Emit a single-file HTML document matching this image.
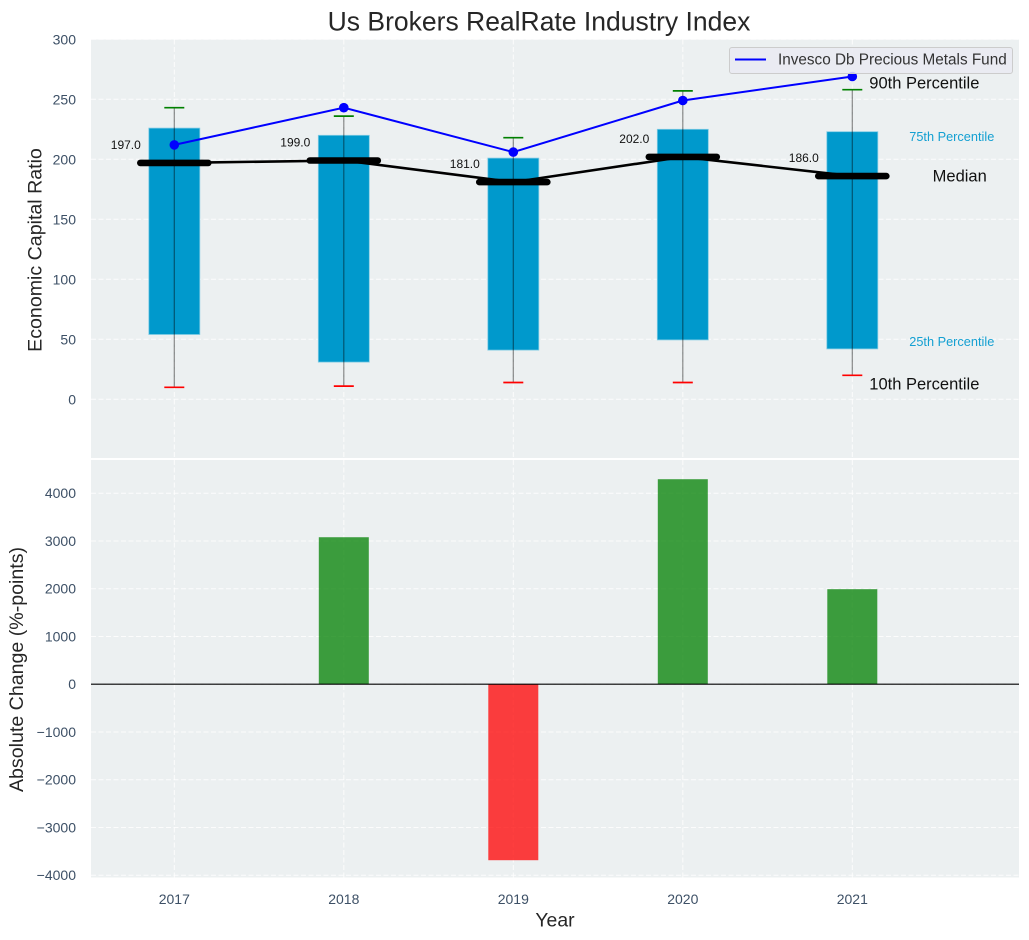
<!DOCTYPE html>
<html lang="en">
<head>
<meta charset="utf-8">
<title>Us Brokers RealRate Industry Index</title>
<style>
html,body{margin:0;padding:0;background:#fff;overflow:hidden;}
svg{display:block;font-family:"Liberation Sans",Arial,sans-serif;}
</style>
</head>
<body>
<svg id="chart" width="1029" height="940" viewBox="0 0 1029 940" xmlns="http://www.w3.org/2000/svg"></svg>
<script>
const years = ['2017', '2018', '2019', '2020', '2021'];
const p10 = [10, 11, 14, 14, 20];
const p25 = [54, 31, 41, 49.5, 42];
const p50 = [197, 199, 181, 202, 186];
const p75 = [226, 220, 201, 225, 223];
const p90 = [243, 236, 218, 257, 258];
const fund = [212, 243, 206, 249, 269];
const absChange = [0, 3078, -3686, 4293, 1990];
const topTicks = [0, 50, 100, 150, 200, 250, 300];
const bottomTicks = [-4000, -3000, -2000, -1000, 0, 1000, 2000, 3000, 4000];

const NS = 'http://www.w3.org/2000/svg';
const svg = document.getElementById('chart');
const L = 91, R = 1019, T1 = 39.5, B1 = 458, T2 = 460, B2 = 877.5;
const x = i => 174.3 + 169.5 * i;
const yTop = v => 399.3 - 1.2 * v;
const yBot = v => 684.2 - 0.04775 * v;

function mk(tag, props, text) {
  const el = document.createElementNS(NS, tag);
  for (const k in props) el.setAttribute(k, props[k]);
  if (text !== undefined) el.textContent = text;
  svg.appendChild(el);
  return el;
}
let e;

/* panels */
e = mk('rect', {x: L, y: T1, width: R - L, height: B1 - T1, fill: '#ecf0f1'});


e = mk('rect', {x: L, y: T2, width: R - L, height: B2 - T2, fill: '#ecf0f1'});



const gridStyle = {stroke: '#fff', 'stroke-width': 1, 'stroke-dasharray': '5 2.5', opacity: 0.85};

/* grid + tick labels, top */
topTicks.forEach(t => {
  let g = mk('line', Object.assign({x1: L, x2: R, y1: yTop(t), y2: yTop(t)}, gridStyle));
  
  
  let l = mk('text', {x: 76, y: yTop(t) + 5, 'text-anchor': 'end', 'font-size': 14, fill: '#3d5066'}, String(t));
  
  
});
/* grid + tick labels, bottom */
bottomTicks.forEach(t => {
  let g = mk('line', Object.assign({x1: L, x2: R, y1: yBot(t), y2: yBot(t)}, gridStyle));
  
  
  const s = t < 0 ? '\u2212' + Math.abs(t) : String(t);
  let l = mk('text', {x: 76, y: yBot(t) + 5, 'text-anchor': 'end', 'font-size': 14, fill: '#3d5066'}, s);
  
  
});
/* vertical grid + x tick labels */
years.forEach((yr, i) => {
  let g = mk('line', Object.assign({x1: x(i), x2: x(i), y1: T1, y2: B1}, gridStyle));
  
  
  let h = mk('line', Object.assign({x1: x(i), x2: x(i), y1: T2, y2: B2}, gridStyle));
  
  
  let l = mk('text', {x: x(i), y: 904, 'text-anchor': 'middle', 'font-size': 14, fill: '#3d5066'}, yr);
  
  
});

/* IQR bars */
years.forEach((yr, i) => {
  let b = mk('rect', {x: x(i) - 25.5, y: yTop(p75[i]), width: 51, height: yTop(p25[i]) - yTop(p75[i]), fill: '#0099cc', stroke: '#7fcbe4', 'stroke-width': 0.8});
  
  
});

/* whiskers */
years.forEach((yr, i) => {
  let w = mk('line', {x1: x(i), x2: x(i), y1: yTop(p90[i]), y2: yTop(p10[i]), stroke: '#000', 'stroke-opacity': 0.45, 'stroke-width': 1.2});
  
  
  let hi = mk('line', {x1: x(i) - 10, x2: x(i) + 10, y1: yTop(p90[i]), y2: yTop(p90[i]), stroke: '#008000', 'stroke-width': 1.7});
  
  
  let lo = mk('line', {x1: x(i) - 10, x2: x(i) + 10, y1: yTop(p10[i]), y2: yTop(p10[i]), stroke: '#ff0000', 'stroke-width': 1.7});
  
  
});

/* median connecting line */
e = mk('polyline', {points: p50.map((v, i) => x(i) + ',' + yTop(v)).join(' '), fill: 'none', stroke: '#000', 'stroke-width': 2.6});



/* median thick segments and labels */
years.forEach((yr, i) => {
  let m = mk('line', {x1: x(i) - 34, x2: x(i) + 34, y1: yTop(p50[i]), y2: yTop(p50[i]), stroke: '#000', 'stroke-width': 6.6, 'stroke-linecap': 'round'});
  
  
  let l = mk('text', {x: x(i) - 33.5, y: yTop(p50[i]) - 14, 'text-anchor': 'end', 'font-size': 12, fill: '#111'}, p50[i].toFixed(1));
  
  
});

/* fund line */
e = mk('polyline', {points: fund.map((v, i) => x(i) + ',' + yTop(v)).join(' '), fill: 'none', stroke: '#0000ff', 'stroke-width': 2});


years.forEach((yr, i) => {
  let c = mk('circle', {cx: x(i), cy: yTop(fund[i]), r: 4.8, fill: '#0000ff'});
  
  
});

/* percentile annotations */
const last = years.length - 1;
e = mk('text', {x: x(last) + 17, y: yTop(p90[last]) - 1, 'font-size': 16.5, fill: '#111'}, '90th Percentile');


e = mk('text', {x: x(last) + 142, y: yTop(p75[last]) + 9.5, 'text-anchor': 'end', 'font-size': 12.75, fill: '#14a0d2'}, '75th Percentile');


e = mk('text', {x: x(last) + 134.5, y: yTop(p50[last]) + 5.5, 'text-anchor': 'end', 'font-size': 16.5, fill: '#111'}, 'Median');


e = mk('text', {x: x(last) + 142, y: yTop(p25[last]) - 3, 'text-anchor': 'end', 'font-size': 12.75, fill: '#14a0d2'}, '25th Percentile');


e = mk('text', {x: x(last) + 17, y: yTop(p10[last]) + 14, 'font-size': 16.5, fill: '#111'}, '10th Percentile');



/* change bars */
years.forEach((yr, i) => {
  const v = absChange[i];
  if (v === 0) return;
  const y0 = yBot(Math.max(v, 0)), y1 = yBot(Math.min(v, 0));
  const col = v >= 0 ? '#008000' : '#ff0000';
  let b = mk('rect', {x: x(i) - 25, y: y0, width: 50, height: y1 - y0, fill: col, 'fill-opacity': 0.75});
  
  
});

/* zero line */
e = mk('line', {x1: L, x2: R, y1: yBot(0), y2: yBot(0), stroke: '#000', 'stroke-width': 1.1});



/* legend */
e = mk('rect', {x: 729.5, y: 47.5, width: 283, height: 26, rx: 2.5, fill: '#eaeaf2', 'fill-opacity': 0.85, stroke: '#cccccc', 'stroke-width': 1});


e = mk('line', {x1: 735, x2: 766, y1: 59.5, y2: 59.5, stroke: '#0000ff', 'stroke-width': 2});


e = mk('text', {x: 778, y: 64.5, 'font-size': 15.3, fill: '#333333'}, 'Invesco Db Precious Metals Fund');



/* titles */
e = mk('text', {x: 539, y: 30.5, 'text-anchor': 'middle', 'font-size': 26.5, fill: '#262626'}, 'Us Brokers RealRate Industry Index');


e = mk('text', {x: 555, y: 926.5, 'text-anchor': 'middle', 'font-size': 19.4, fill: '#262626'}, 'Year');


e = mk('text', {transform: 'translate(41.5 250) rotate(-90)', 'text-anchor': 'middle', 'font-size': 19.6, fill: '#262626'}, 'Economic Capital Ratio');


e = mk('text', {transform: 'translate(23 669.5) rotate(-90)', 'text-anchor': 'middle', 'font-size': 19.6, fill: '#262626'}, 'Absolute Change (%-points)');


</script>
</body>
</html>
